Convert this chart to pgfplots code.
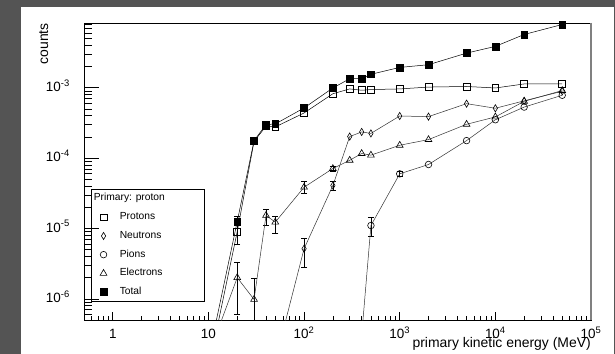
\documentclass[border=0pt]{standalone}
\usepackage{fontspec}
\setmainfont{Liberation Sans}
\usepackage{pgfplots}
\pgfplotsset{compat=1.18}
\definecolor{framegray}{gray}{0.33}
\begin{document}
\begin{tikzpicture}
\fill[framegray] (0,0) rectangle (615bp,354bp);
\fill[white] (21bp,0) rectangle (614bp,347bp);
\begin{axis}[
  at={(84bp,34bp)}, anchor=south west,
  width=507bp, height=297bp, scale only axis,
  xmode=log, ymode=log,
  xmin=0.5, xmax=1e5, ymin=5e-7, ymax=8.3e-3,
  tick align=inside, tick pos=left,
  major tick length=8.3bp, minor tick length=4.3bp,
  xtick={1,10,100,1000,10000,100000},
  xticklabels={1,10,10\textsuperscript{2},10\textsuperscript{3},10\textsuperscript{4},10\textsuperscript{5}},
  minor xtick={0.6,0.7,0.8,0.9,2,3,4,5,6,7,8,9,20,30,40,50,60,70,80,90,200,300,400,500,600,700,800,900,2000,3000,4000,5000,6000,7000,8000,9000,20000,30000,40000,50000,60000,70000,80000,90000},
  ytick=\empty,
  xticklabel style={font=\fontsize{13.5}{15}\selectfont, anchor=base, yshift=-18.5bp, inner sep=0pt},
  axis line style={line width=0.6bp},
  every tick/.style={black, line width=0.6bp},
  xlabel={primary kinetic energy (MeV)},
  xlabel style={at={(axis description cs:1,0)}, anchor=base east, yshift=-27.5bp, inner sep=0pt, font=\fontsize{14}{16}\selectfont},
  ylabel={counts},
  ylabel style={at={(axis description cs:-0.0793,1)}, anchor=east, inner sep=0pt, font=\fontsize{14}{16}\selectfont},
  legend style={at={(axis description cs:0.0132,0.0606)}, anchor=south west, draw=black, line width=0.6bp,
    inner xsep=0pt, inner ysep=5bp, font=\fontsize{10.3}{12}\selectfont, row sep=9.4bp, column sep=8bp,
    nodes={inner sep=0pt, text height=7bp, text depth=2.3bp}},
  legend cell align=left,
  legend image code/.code={\path (-12.3bp,0bp) (8bp,0bp); \draw[#1] plot coordinates {(0bp,0bp)};},
  error bars/error bar style={draw=black, line width=0.6bp},
  error bars/error mark options={rotate=90, mark size=3bp, draw=black, line width=0.6bp},
]
% error bars
\addplot[forget plot, draw=none, mark=none, error bars/.cd, y dir=both, y explicit]
  coordinates {(20,9.0e-6) += (0,3e-6) -= (0,3e-6)
               (20,1.25e-5) += (0,2.5e-6) -= (0,2.5e-6)};
\addplot[forget plot, draw=none, mark=none, error bars/.cd, y dir=both, y explicit]
  coordinates {(100,5.15e-6) += (0,2e-6) -= (0,2.3e-6)
               (200,4.07e-5) += (0,6e-6) -= (0,6e-6)};
\addplot[forget plot, draw=none, mark=none, error bars/.cd, y dir=both, y explicit]
  coordinates {(500,1.1e-5) += (0,3.2e-6) -= (0,3.2e-6)
               (1000,5.97e-5) += (0,5e-6) -= (0,5e-6)};
\addplot[forget plot, draw=none, mark=none, error bars/.cd, y dir=both, y explicit]
  coordinates {(20,2.0e-6) += (0,1.3e-6) -= (0,1.4e-6)
               (30,9.8e-7) += (0,9.7e-7) -= (0,9.7e-7)
               (40,1.53e-5) += (0,3.7e-6) -= (0,4.3e-6)
               (50,1.23e-5) += (0,2.6e-6) -= (0,3.9e-6)
               (100,3.85e-5) += (0,8e-6) -= (0,7e-6)
               (200,7.1e-5) += (0,6e-6) -= (0,6e-6)};
\addlegendimage{empty legend}
\addlegendentry{\hspace*{-26bp}\makebox[111bp][l]{Primary: proton}}
% Protons
\addplot[black, line width=0.5bp, mark=square, mark size=3.4bp, mark options={solid, line width=0.7bp}]
  coordinates {(10,1.0e-7) (20,9.0e-6) (30,1.73e-4) (40,2.83e-4) (50,2.77e-4) (100,4.37e-4) (200,8.2e-4) (300,9.6e-4) (400,9.2e-4) (500,9.4e-4) (1000,9.6e-4) (2000,1.02e-3) (5000,1.04e-3) (10000,9.9e-4) (20000,1.13e-3) (50000,1.13e-3)};
\addlegendentry{Protons}
% Neutrons
\addplot[black!80, line width=0.5bp, mark=diamond, mark size=3.6bp, mark options={solid, black, line width=0.6bp, xscale=0.8}]
  coordinates {(50,1.3e-7) (100,5.15e-6) (200,4.07e-5) (300,2.02e-4) (400,2.35e-4) (500,2.24e-4) (1000,3.96e-4) (2000,3.88e-4) (5000,5.93e-4) (10000,5.1e-4) (20000,6.5e-4) (50000,8.9e-4)};
\addlegendentry{Neutrons}
% Pions
\addplot[black!80, line width=0.5bp, mark=o, mark size=3.3bp, mark options={solid, black, line width=0.6bp}]
  coordinates {(400,3.0e-7) (500,1.1e-5) (1000,5.97e-5) (2000,8.1e-5) (5000,1.77e-4) (10000,3.5e-4) (20000,5.3e-4) (50000,7.8e-4)};
\addlegendentry{Pions}
% Electrons
\addplot[black!80, line width=0.5bp, mark=triangle, mark size=3.9bp, mark options={solid, black, line width=0.6bp}]
  coordinates {(10,1.55e-7) (20,2.0e-6) (30,9.8e-7) (40,1.53e-5) (50,1.23e-5) (100,3.85e-5) (200,7.1e-5) (300,9.3e-5) (400,1.16e-4) (500,1.1e-4) (1000,1.52e-4) (2000,1.83e-4) (5000,3.02e-4) (10000,3.84e-4) (20000,6.4e-4) (50000,9.1e-4)};
\addlegendentry{Electrons}
% Total
\addplot[black, line width=0.5bp, mark=square*, mark size=3.4bp, mark options={solid, fill=black}]
  coordinates {(10,1.45e-7) (20,1.25e-5) (30,1.77e-4) (40,2.99e-4) (50,3.05e-4) (100,5.15e-4) (200,9.9e-4) (300,1.34e-3) (400,1.34e-3) (500,1.55e-3) (1000,1.94e-3) (2000,2.12e-3) (5000,3.1e-3) (10000,3.86e-3) (20000,5.7e-3) (50000,7.9e-3)};
\addlegendentry{Total}
\end{axis}
\begin{axis}[
  at={(84bp,34bp)}, anchor=south west,
  width=507bp, height=297bp, scale only axis,
  xmode=log, ymode=log,
  xmin=0.5, xmax=1e5, ymin=5e-7, ymax=8.3e-3,
  hide x axis,
  tick align=inside, tick pos=left,
  major tick length=15bp, minor tick length=8bp,
  ytick={1e-6,1e-5,1e-4,1e-3},
  yticklabels={10\textsuperscript{-6},10\textsuperscript{-5},10\textsuperscript{-4},10\textsuperscript{-3}},
  minor ytick={6e-7,7e-7,8e-7,9e-7,2e-6,3e-6,4e-6,5e-6,6e-6,7e-6,8e-6,9e-6,2e-5,3e-5,4e-5,5e-5,6e-5,7e-5,8e-5,9e-5,2e-4,3e-4,4e-4,5e-4,6e-4,7e-4,8e-4,9e-4,2e-3,3e-3,4e-3,5e-3,6e-3,7e-3,8e-3},
  yticklabel style={font=\fontsize{13.5}{15}\selectfont, anchor=mid east, xshift=-14bp, yshift=-1bp, inner sep=0pt},
  axis line style={line width=0.6bp},
  every tick/.style={black, line width=0.6bp},
]
\addplot[draw=none, mark=none] coordinates {(1,1e-5)};
\end{axis}
\draw[gray, line width=1.4bp] (591bp,34bp) -- (591bp,331bp);
\pgfresetboundingbox
\useasboundingbox (0,0) rectangle (615bp,354bp);
\end{tikzpicture}
\end{document}
